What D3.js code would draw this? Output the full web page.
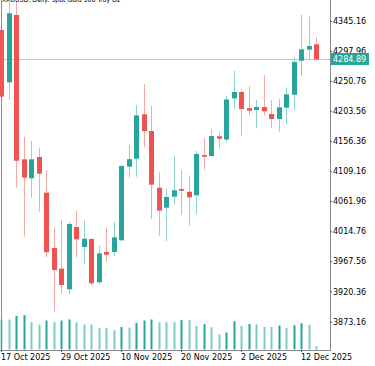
<!DOCTYPE html>
<html><head><meta charset="utf-8">
<script src="https://cdn.jsdelivr.net/npm/d3@7"></script>
<style>html,body{margin:0;padding:0;background:#fff;overflow:hidden;} svg{display:block;}</style>
</head><body><svg id="c" width="375" height="366"></svg>
<script>
const title = "XAUUSD, Daily:  Spot Gold 100 Troy Oz";
const dates = ["2025-10-17","2025-10-20","2025-10-21","2025-10-22","2025-10-23","2025-10-24","2025-10-27","2025-10-28","2025-10-29","2025-10-30","2025-10-31",
"2025-11-03","2025-11-04","2025-11-05","2025-11-06","2025-11-07","2025-11-10","2025-11-11","2025-11-12","2025-11-13","2025-11-14",
"2025-11-17","2025-11-18","2025-11-19","2025-11-20","2025-11-21","2025-11-24","2025-11-25","2025-11-26","2025-11-27","2025-11-28",
"2025-12-01","2025-12-02","2025-12-03","2025-12-04","2025-12-05","2025-12-08","2025-12-09","2025-12-10","2025-12-11","2025-12-12",
"2025-12-15","2025-12-16"];
const opens  = [4331.0,4248.9,4354.6,4127.9,4098.1,4131.5,4075.5,3988.6,3956.1,3923.8,4021.6,
3990.2,4002.8,3934.8,3982.4,3982.4,4000.7,4116.3,4128.9,4198.6,4172.4,
4083.3,4051.9,4069.2,4081.3,4077.0,4071.4,4134.7,4133.1,4164.1,4159.0,
4223.7,4233.6,4208.2,4205.4,4210.1,4199.1,4191.2,4209.0,4229.4,4282.8,
4300.1,4308.6];
const highs  = [4338.0,4381.0,4375.0,4163.4,4156.7,4146.2,4111.1,4021.1,4032.6,4030.0,4047.2,
4032.1,4003.5,3992.3,4020.5,4029.5,4119.0,4150.4,4213.2,4246.2,4212.1,
4107.5,4082.4,4134.2,4111.1,4102.8,4141.4,4160.9,4175.1,4170.3,4227.4,
4266.6,4237.9,4243.1,4221.1,4260.3,4221.1,4222.6,4240.4,4288.2,4354.6,
4351.9,4319.6];
const lows   = [4215.0,4221.1,4083.3,4006.4,4067.6,4045.6,3974.0,3888.6,3917.5,3916.4,3973.4,
3963.5,3930.5,3932.1,3967.1,3976.1,3999.6,4099.3,4100.6,4146.8,4034.2,
4008.0,3999.6,4057.3,4040.9,4023.6,4041.5,4111.6,4132.0,4144.6,4155.6,
4207.2,4165.0,4196.4,4176.6,4196.4,4177.6,4171.3,4183.4,4205.4,4258.8,
4285.0,4283.5];
const closes = [4226.3,4357.3,4125.7,4099.1,4127.9,4105.3,3981.9,3954.1,3930.5,4026.3,4002.3,
4003.2,3933.2,3980.3,3978.1,4005.4,4117.4,4128.1,4197.0,4172.4,4088.1,
4047.2,4068.7,4079.3,4078.6,4068.2,4136.3,4132.0,4164.5,4160.3,4221.9,
4233.6,4206.9,4204.3,4210.1,4203.3,4191.2,4209.6,4230.0,4280.8,4300.7,
4305.9,4284.89];
const volumes = [120000,120000,134400,137200,109200,100000,116000,109200,116000,120000,108000,
100000,100000,86400,86400,77200,90400,88000,106400,116000,120000,
109200,109200,109200,117200,117200,94400,101200,89200,60000,68000,
113200,94400,102400,101200,90400,90400,96000,86400,97200,105200,
98400,13200];
const priceTicks = [3873.16,3920.36,3967.56,4014.76,4061.96,4109.16,4156.36,4203.56,4250.76,4297.96,4345.16];
const lastPrice = 4284.89;

const parse = d3.timeParse("%Y-%m-%d");
const fmtDate = d3.timeFormat("%-d %b %Y");
const data = dates.map((d,i)=>({d, o:opens[i], h:highs[i], l:lows[i], c:closes[i], v:volumes[i]}));

const svg = d3.select("#c");
const font = "'DejaVu Sans', Tahoma, sans-serif";
const axisX = 330, bottomY = 350;
const green = "#26a69a", red = "#ef5350", greenW = "#8fd3cc", redW = "#f7a9a7";

const x = d3.scaleBand().domain(dates).range([-2.75, 319.75]).padding(0);
const y = d3.scaleLinear().domain([3873.16, 4345.16]).range([321.5, 21]);
const yv = d3.scaleLinear().domain([0, 200000]).range([349.5, 299.5]);
const cx = d => Math.round(x(d) + x.bandwidth()/2);

svg.append("defs").append("clipPath").attr("id","clip")
  .append("rect").attr("x",0).attr("y",0).attr("width",axisX).attr("height",bottomY);

// title (mostly cut off at the top)
svg.append("text").attr("x",2).attr("y",1.5).attr("font-family",font).attr("font-size",6.2)
  .attr("fill","#000").text(title);

const plot = svg.append("g").attr("clip-path","url(#clip)");

// volumes
plot.selectAll("rect.vol").data(data).join("rect").attr("class","vol")
  .attr("x", d => cx(d.d) - 0.5).attr("width", 2)
  .attr("y", d => yv(d.v)).attr("height", d => yv(0) - yv(d.v))
  .attr("fill", (d,i) => (i>0 && d.v > data[i-1].v) ? green : "#7fcbc3");

// frame
svg.append("line").attr("x1",1.5).attr("x2",1.5).attr("y1",0).attr("y2",bottomY).attr("stroke","#8a8a8a");
svg.append("line").attr("x1",0).attr("x2",axisX+0.5).attr("y1",bottomY+0.5).attr("y2",bottomY+0.5).attr("stroke","#8a8a8a");
svg.append("line").attr("x1",axisX+0.5).attr("x2",axisX+0.5).attr("y1",0).attr("y2",bottomY+1).attr("stroke","#8a8a8a");

// last price line
const lpY = Math.round(y(lastPrice)) + 0.5;
plot.append("line").attr("x1",0).attr("x2",axisX).attr("y1",lpY).attr("y2",lpY)
  .attr("stroke","#9ed8d2").attr("stroke-width",1);

// candles
const cg = plot.selectAll("g.candle").data(data).join("g").attr("class","candle");
cg.append("line")
  .attr("x1", d => cx(d.d)+0.5).attr("x2", d => cx(d.d)+0.5)
  .attr("y1", d => y(d.h)).attr("y2", d => y(d.l))
  .attr("stroke", d => d.c >= d.o ? greenW : redW).attr("stroke-width",1);
cg.append("rect")
  .attr("x", d => cx(d.d) - 2).attr("width", 5)
  .attr("y", d => y(Math.max(d.o,d.c)))
  .attr("height", d => Math.max(1.5, Math.abs(y(d.o) - y(d.c))))
  .attr("fill", d => d.c >= d.o ? green : red);

// right price axis
const ay = svg.append("g").attr("transform",`translate(${axisX},0)`)
  .call(d3.axisRight(y).tickValues(priceTicks).tickSize(2).tickPadding(1).tickFormat(d3.format(".2f")));
ay.select(".domain").remove();
ay.selectAll("line").attr("stroke","#555");
ay.selectAll("text").attr("font-family",font).attr("font-size",8).attr("fill","#000");

// last price label
const lb = svg.append("g").attr("transform",`translate(${axisX+1},${lpY})`);
lb.append("rect").attr("x",0).attr("y",-6.5).attr("width",38).attr("height",12).attr("fill",green);
lb.append("text").attr("x",2).attr("y",0).attr("dy","0.35em").attr("font-family",font).attr("font-size",8)
  .attr("fill","#fff").text(d3.format(".2f")(lastPrice));

// bottom time axis
const xp = d3.scalePoint().domain(dates).range([1, 316]);
const tickDates = dates.filter((d,i) => i % 8 === 0);
const ax = svg.append("g").attr("transform",`translate(0,${bottomY})`)
  .call(d3.axisBottom(xp).tickValues(tickDates).tickSize(2).tickPadding(2).tickFormat(d => fmtDate(parse(d))));
ax.select(".domain").remove();
ax.selectAll("line").attr("stroke","#555");
ax.selectAll("text").attr("text-anchor","start").attr("x",-0.5)
  .attr("font-family",font).attr("font-size",8).attr("fill","#000");
</script></body></html>
